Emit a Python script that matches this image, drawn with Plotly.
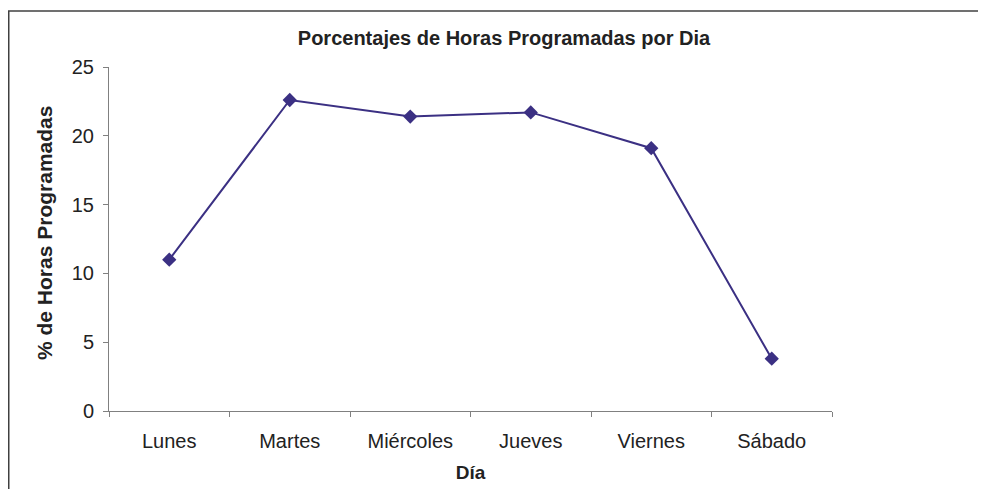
import plotly.graph_objects as go

dias = ["Lunes", "Martes", "Miércoles", "Jueves", "Viernes", "Sábado"]
porcentajes = [11.0, 22.6, 21.4, 21.7, 19.1, 3.8]

titulo = "Porcentajes de Horas Programadas por Dia"
titulo_x = "Día"
titulo_y = "% de Horas Programadas"

# The page body adds an 8px offset; target coords are page pixels.
OFF = 8
W, H = 986, 489
L, T = 109 - OFF, 67 - OFF
R = W - (832 - OFF)
B = H - (411 - OFF)
pw, ph = W - L - R, H - T - B


def px_x(x):
    return (x - OFF - L) / pw


def px_y(y):
    return (H - B - (y - OFF)) / ph


fig = go.Figure()
fig.add_trace(go.Scatter(
    x=dias, y=porcentajes, mode="lines+markers",
    line=dict(color="#3b3083", width=2),
    marker=dict(symbol="diamond", size=11, color="#3b3083"),
    showlegend=False,
))

font_family = "Liberation Sans, Arial, sans-serif"
fig.update_layout(
    width=W, height=H,
    margin=dict(l=L, r=R, t=T, b=B),
    paper_bgcolor="white", plot_bgcolor="white",
    font=dict(family=font_family, color="#222222"),
    title=dict(text="<b>" + titulo + "</b>", x=(504 - OFF) / W, xanchor="center",
               y=1 - (38 - OFF) / H, yanchor="middle", font=dict(size=20, color="#222222")),
    xaxis=dict(
        type="category", range=[-0.5, 5.5], tickson="boundaries",
        ticks="outside", ticklen=5, tickcolor="#808080", tickwidth=1,
        showline=True, linecolor="#808080", linewidth=1,
        showgrid=False, zeroline=False,
        tickfont=dict(size=20, color="#222222"),
        ticklabelstandoff=12,
        title=dict(text="<b>" + titulo_x + "</b>", font=dict(size=19, color="#222222"), standoff=14),
    ),
    yaxis=dict(
        range=[0, 25], dtick=5, ticks="outside", ticklen=5,
        tickcolor="#808080", tickwidth=1,
        showline=True, linecolor="#808080", linewidth=1,
        showgrid=False, zeroline=False,
        tickfont=dict(size=20, color="#222222"),
        ticklabelstandoff=5,
    ),
    annotations=[dict(
        text="<b>" + titulo_y + "</b>", textangle=-90,
        xref="paper", yref="paper", x=px_x(44), y=px_y(233),
        xanchor="center", yanchor="middle", showarrow=False,
        font=dict(size=21, color="#222222"),
    )],
    shapes=[
        dict(type="line", xref="paper", yref="paper",
             x0=px_x(8.75), x1=px_x(8.75), y0=px_y(11), y1=px_y(500),
             line=dict(color="#404040", width=1.5)),
        dict(type="line", xref="paper", yref="paper",
             x0=px_x(8), x1=px_x(1000), y0=px_y(11), y1=px_y(11),
             line=dict(color="#404040", width=1.5)),
    ],
)

fig.write_html("out.html")
